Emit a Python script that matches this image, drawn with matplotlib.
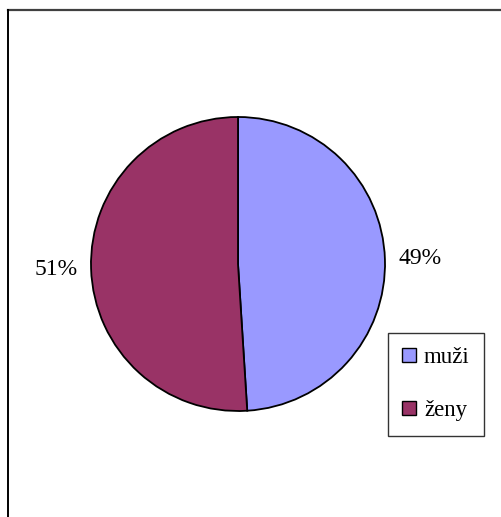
import matplotlib
matplotlib.use("Agg")
import matplotlib.pyplot as plt
from matplotlib.patches import Patch
from matplotlib.lines import Line2D

categories = ["muži", "ženy"]
shares = [49, 51]
colors = ["#9999FF", "#993366"]

W, H = 501, 517
DPI = 100
fig = plt.figure(figsize=(W / DPI, H / DPI), dpi=DPI)
fig.patch.set_facecolor("white")

# axes span the whole canvas in pixel units
ax = fig.add_axes([0, 0, 1, 1])
ax.set_xlim(0, W)
ax.set_ylim(0, H)
ax.set_aspect("equal")
ax.axis("off")

plt.rcParams["font.family"] = ["Liberation Serif", "DejaVu Serif"]

cx, cy, r = 238, H - 264, 147
wedges, texts, autotexts = ax.pie(
    shares,
    colors=colors,
    startangle=90,
    counterclock=False,
    center=(cx, cy),
    radius=r,
    autopct="%1.0f%%",
    pctdistance=1.24,
    wedgeprops=dict(edgecolor="black", linewidth=1.3),
    textprops=dict(fontsize=17, color="black", family="Liberation Serif"),
    frame=False,
)
ax.set_xlim(0, W)
ax.set_ylim(0, H)

# chart area frame
fig.add_artist(Line2D([8 / W, 1], [1 - 10 / H, 1 - 10 / H], transform=fig.transFigure,
                      color="#404040", linewidth=1.6))
fig.add_artist(Line2D([8 / W, 8 / W], [0, 1 - 10 / H], transform=fig.transFigure,
                      color="black", linewidth=1.4))

handles = [Patch(facecolor=c, edgecolor="black", linewidth=1.0) for c in colors]
leg = fig.legend(
    handles, categories,
    loc="upper left",
    bbox_to_anchor=(388 / W, 1 - 333 / H),
    bbox_transform=fig.transFigure,
    frameon=True, fancybox=False, shadow=False,
    borderaxespad=0,
    prop=dict(family="Liberation Serif", size=16.5),
    handlelength=0.6, handleheight=0.6, handletextpad=0.35,
    labelspacing=1.4, borderpad=0.62,
)
leg.get_frame().set_edgecolor("black")
leg.get_frame().set_linewidth(1.0)

fig.savefig("out.png", dpi=DPI, facecolor="white")
